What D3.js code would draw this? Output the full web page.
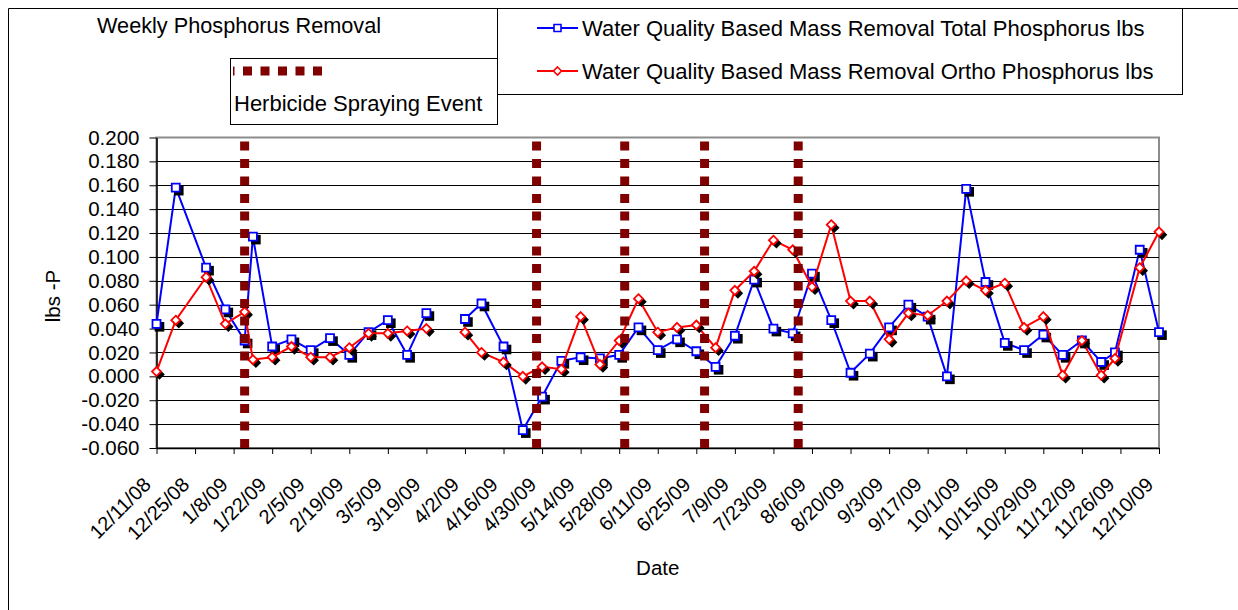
<!DOCTYPE html>
<html>
<head>
<meta charset="utf-8">
<script src="https://cdn.jsdelivr.net/npm/d3@7"></script>
<style>
  body { margin: 0; background: #fff; }
  text { font-family: "Liberation Sans", Arial, sans-serif; fill: #000; }
</style>
</head>
<body>
<svg id="chart"></svg>
<script>
'use strict';

// weekly sample dates (3/26/09 has no sample -> gap in both lines)
const sampleDates = [
  '12/11/08', '12/18/08', '12/29/08', '1/5/09', '1/12/09', '1/15/09', '1/22/09', '1/29/09',
  '2/5/09', '2/12/09', '2/19/09', '2/26/09', '3/5/09', '3/12/09', '3/19/09', '3/26/09',
  '4/2/09', '4/8/09', '4/16/09', '4/23/09', '4/30/09', '5/7/09', '5/14/09', '5/21/09',
  '5/28/09', '6/4/09', '6/11/09', '6/18/09', '6/25/09', '7/2/09', '7/9/09', '7/16/09',
  '7/23/09', '7/30/09', '8/6/09', '8/13/09', '8/20/09', '8/27/09', '9/3/09', '9/10/09',
  '9/17/09', '9/24/09', '10/1/09', '10/8/09', '10/15/09', '10/22/09', '10/29/09', '11/5/09',
  '11/12/09', '11/19/09', '11/24/09', '12/3/09', '12/10/09'
];

// Water Quality Based Mass Removal Total Phosphorus lbs
const totalP = [
  0.044, 0.158, 0.091, 0.056, 0.030, 0.117, 0.025, 0.031,
  0.022, 0.032, 0.018, 0.037, 0.047, 0.018, 0.053, null,
  0.048, 0.061, 0.025, -0.045, -0.017, 0.013, 0.016, 0.015,
  0.018, 0.041, 0.022, 0.031, 0.021, 0.008, 0.034, 0.081,
  0.040, 0.036, 0.086, 0.047, 0.003, 0.019, 0.041, 0.060,
  0.050, 0.000, 0.157, 0.079, 0.028, 0.022, 0.035, 0.018,
  0.030, 0.012, 0.020, 0.106, 0.037
];

// Water Quality Based Mass Removal Ortho Phosphorus lbs
const orthoP = [
  0.004, 0.047, 0.083, 0.044, 0.054, 0.014, 0.016, 0.025,
  0.016, 0.016, 0.024, 0.036, 0.036, 0.038, 0.040, null,
  0.037, 0.020, 0.012, 0.000, 0.008, 0.006, 0.050, 0.010,
  0.030, 0.065, 0.037, 0.041, 0.043, 0.024, 0.072, 0.088,
  0.114, 0.106, 0.075, 0.127, 0.063, 0.063, 0.031, 0.053,
  0.051, 0.063, 0.080, 0.072, 0.078, 0.041, 0.050, 0.001,
  0.030, 0.001, 0.015, 0.091, 0.121
];

const sprayDates = ['1/12/09', '4/28/09', '5/30/09', '6/28/09', '8/1/09'];

const tickDates = [
  '12/11/08', '12/25/08', '1/8/09', '1/22/09', '2/5/09', '2/19/09', '3/5/09', '3/19/09',
  '4/2/09', '4/16/09', '4/30/09', '5/14/09', '5/28/09', '6/11/09', '6/25/09', '7/9/09',
  '7/23/09', '8/6/09', '8/20/09', '9/3/09', '9/17/09', '10/1/09', '10/15/09', '10/29/09',
  '11/12/09', '11/26/09', '12/10/09'
];

const yTicks = [-0.06, -0.04, -0.02, 0, 0.02, 0.04, 0.06, 0.08, 0.1, 0.12, 0.14, 0.16, 0.18, 0.2];

const width = 1238;
const height = 610;
const plot = { left: 156.5, right: 1159, top: 137.5, bottom: 448 };

const parse = d3.utcParse('%m/%d/%y');
const fmtDate = d3.utcFormat('%-m/%-d/%y');

const x = d3.scaleUtc()
  .domain([parse('12/11/08'), parse('12/10/09')])
  .range([plot.left, plot.right]);

const y = d3.scaleLinear()
  .domain([-0.06, 0.2])
  .range([plot.bottom, plot.top]);

const svg = d3.select('#chart')
  .attr('width', width)
  .attr('height', height);

// chart area frame (only top and left are inside the picture)
svg.append('path')
  .attr('d', `M8.5,${height}V8.5H${width}`)
  .attr('fill', 'none')
  .attr('stroke', '#000');

// plot area border
svg.append('rect')
  .attr('x', plot.left)
  .attr('y', plot.top)
  .attr('width', plot.right - plot.left)
  .attr('height', plot.bottom - plot.top)
  .attr('fill', '#fff')
  .attr('stroke', '#8c8c8c')
  .attr('stroke-width', 2);

// gridlines
svg.append('g')
  .selectAll('line')
  .data(yTicks.filter(d => d > -0.06 && d < 0.2))
  .enter()
  .append('line')
  .attr('x1', plot.left)
  .attr('x2', plot.right)
  .attr('y1', d => Math.round(y(d)) + 0.5)
  .attr('y2', d => Math.round(y(d)) + 0.5)
  .attr('stroke', '#000')
  .attr('stroke-width', 1);

// axes
const yAxis = svg.append('g')
  .attr('transform', `translate(${plot.left},0)`)
  .call(d3.axisLeft(y)
    .tickValues(yTicks)
    .tickSize(7)
    .tickSizeOuter(0)
    .tickPadding(10)
    .tickFormat(d => d.toFixed(3)));

const xAxis = svg.append('g')
  .attr('transform', `translate(0,${plot.bottom})`)
  .call(d3.axisBottom(x)
    .tickValues(tickDates.map(parse))
    .tickSize(6)
    .tickSizeOuter(0)
    .tickFormat(fmtDate));

[yAxis, xAxis].forEach(function(ax) {
  ax.select('.domain').attr('stroke', '#000').attr('stroke-width', 1.5);
  ax.selectAll('.tick line').attr('stroke', '#000');
  ax.selectAll('text')
    .style('font-size', '20.5px')
    .attr('fill', '#000');
});

xAxis.selectAll('text')
  .style('font-size', '20px')
  .attr('x', null)
  .attr('y', null)
  .attr('dy', null)
  .attr('text-anchor', 'end')
  .attr('transform', 'translate(-5,38) rotate(-45)');

// axis titles
svg.append('text')
  .attr('transform', 'translate(60,296) rotate(-90)')
  .attr('text-anchor', 'middle')
  .style('font-size', '20.5px')
  .text('lbs -P');

svg.append('text')
  .attr('x', (plot.left + plot.right) / 2)
  .attr('y', 575)
  .attr('text-anchor', 'middle')
  .style('font-size', '20.5px')
  .text('Date');

// series
const rows = sampleDates.map(function(d, i) {
  return { date: parse(d), tp: totalP[i], op: orthoP[i] };
});

const series = [
  { key: 'tp', color: '#0000ff', marker: 'square' },
  { key: 'op', color: '#ff0000', marker: 'diamond' }
];

function markerPath(type, r) {
  if (type === 'square') {
    return `M${-r},${-r}H${r}V${r}H${-r}Z`;
  }
  return `M0,${-r}L${r},0L0,${r}L${-r},0Z`;
}

series.forEach(function(s) {
  const pts = rows.filter(r => r[s.key] !== null);
  const line = d3.line()
    .defined(r => r[s.key] !== null)
    .x(r => x(r.date))
    .y(r => y(r[s.key]));

  svg.append('path')
    .datum(rows)
    .attr('d', line)
    .attr('fill', 'none')
    .attr('stroke', s.color)
    .attr('stroke-width', 2);

  const r = s.marker === 'square' ? 4 : 4.5;

  // marker shadows
  svg.append('g')
    .selectAll('path')
    .data(pts)
    .enter()
    .append('path')
    .attr('transform', d => `translate(${x(d.date) + 3},${y(d[s.key]) + 3})`)
    .attr('d', markerPath(s.marker, r + 0.8))
    .attr('fill', '#000');

  svg.append('g')
    .selectAll('path')
    .data(pts)
    .enter()
    .append('path')
    .attr('transform', d => `translate(${x(d.date)},${y(d[s.key])})`)
    .attr('d', markerPath(s.marker, r))
    .attr('fill', '#fff')
    .attr('stroke', s.color)
    .attr('stroke-width', 1.8);
});

// herbicide spraying events
svg.append('g')
  .selectAll('line')
  .data(sprayDates.map(parse))
  .enter()
  .append('line')
  .attr('x1', d => x(d))
  .attr('x2', d => x(d))
  .attr('y1', y(-0.06))
  .attr('y2', y(0.2))
  .attr('stroke', '#800000')
  .attr('stroke-width', 9)
  .attr('stroke-dasharray', '9,8.5');

// title
svg.append('text')
  .attr('x', 97)
  .attr('y', 33)
  .style('font-size', '21.7px')
  .text('Weekly Phosphorus Removal');

// legend for the two series
const legend = svg.append('g');
legend.append('rect')
  .attr('x', 497.5)
  .attr('y', 8.5)
  .attr('width', 685)
  .attr('height', 86)
  .attr('fill', '#fff')
  .attr('stroke', '#000');

const legendRows = [
  { text: 'Water Quality Based Mass Removal Total Phosphorus lbs', s: series[0], y: 28 },
  { text: 'Water Quality Based Mass Removal Ortho Phosphorus lbs', s: series[1], y: 71 }
];

const item = legend.selectAll('.item')
  .data(legendRows)
  .enter()
  .append('g')
  .attr('transform', d => `translate(0,${d.y})`);

item.append('line')
  .attr('x1', 537)
  .attr('x2', 578)
  .attr('stroke', d => d.s.color)
  .attr('stroke-width', 2);

item.append('path')
  .attr('transform', 'translate(557.5,0)')
  .attr('d', d => markerPath(d.s.marker, d.s.marker === 'square' ? 3.5 : 4))
  .attr('fill', '#fff')
  .attr('stroke', d => d.s.color)
  .attr('stroke-width', 1.6);

item.append('text')
  .attr('x', 582)
  .attr('y', 7.5)
  .style('font-size', '22px')
  .text(d => d.text);

// legend for spraying events
const sprayLegend = svg.append('g');
sprayLegend.append('rect')
  .attr('x', 230.5)
  .attr('y', 58.5)
  .attr('width', 267)
  .attr('height', 66)
  .attr('fill', '#fff')
  .attr('stroke', '#000');

sprayLegend.append('line')
  .attr('x1', 322)
  .attr('x2', 233)
  .attr('y1', 71)
  .attr('y2', 71)
  .attr('stroke', '#800000')
  .attr('stroke-width', 9)
  .attr('stroke-dasharray', '9,8.5');

sprayLegend.append('text')
  .attr('x', 234)
  .attr('y', 110.5)
  .style('font-size', '22px')
  .text('Herbicide Spraying Event');
</script>
</body>
</html>
